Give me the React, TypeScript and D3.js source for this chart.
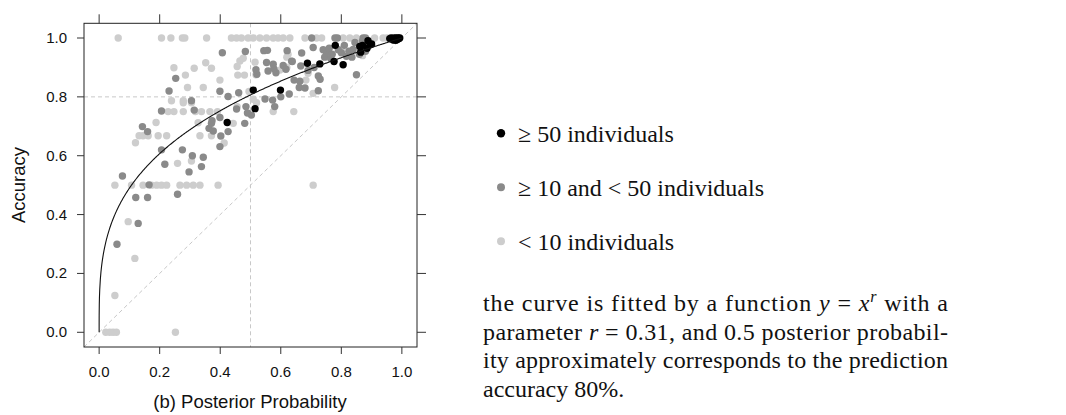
import React from "react";
import * as d3 from "d3";

const W = 1066;
const H = 415;

// posterior probability vs accuracy, three size groups
const bigGroup: [number, number][] = [
  [0.423, 0.713], [0.509, 0.823], [0.515, 0.76], [0.599, 0.823], [0.688, 0.914],
  [0.729, 0.912], [0.776, 0.92], [0.806, 0.909], [0.78, 0.975], [0.861, 0.971],
  [0.864, 0.952], [0.888, 0.991], [0.895, 0.977], [0.87, 0.975], [0.885, 0.965],
  [0.9, 0.98], [0.96, 0.998], [0.965, 1.0], [0.97, 0.995], [0.975, 1.0],
  [0.978, 0.997], [0.982, 1.0], [0.985, 0.995], [0.988, 1.0], [0.99, 0.998],
  [0.993, 1.0], [0.972, 0.993], [0.98, 0.992],
];

const midGroup: [number, number][] = [
  [0.702, 1.0], [0.779, 1.0], [0.787, 1.0], [0.872, 1.0], [0.88, 1.0],
  [0.407, 0.95], [0.483, 0.954], [0.544, 0.957], [0.556, 0.958], [0.621, 0.957],
  [0.669, 0.949], [0.707, 0.968], [0.751, 0.95], [0.839, 0.961], [0.817, 0.938],
  [0.253, 0.863], [0.231, 0.82], [0.206, 0.752], [0.143, 0.699], [0.16, 0.682],
  [0.305, 0.787], [0.314, 0.755], [0.399, 0.819], [0.426, 0.801], [0.461, 0.814],
  [0.454, 0.759], [0.485, 0.767], [0.399, 0.73], [0.373, 0.719], [0.426, 0.682],
  [0.402, 0.667], [0.399, 0.631], [0.363, 0.693], [0.275, 0.62], [0.308, 0.6],
  [0.344, 0.595], [0.338, 0.563], [0.297, 0.545], [0.217, 0.571], [0.206, 0.62],
  [0.165, 0.501], [0.121, 0.458], [0.16, 0.458], [0.259, 0.469], [0.077, 0.531],
  [0.129, 0.37], [0.059, 0.299], [0.481, 0.71], [0.521, 0.877], [0.553, 0.917],
  [0.575, 0.911], [0.558, 0.888], [0.584, 0.882], [0.548, 0.793], [0.573, 0.789],
  [0.58, 0.767], [0.644, 0.857], [0.661, 0.832], [0.638, 0.92], [0.666, 0.905],
  [0.724, 0.821], [0.724, 0.871], [0.85, 0.875], [0.577, 0.896], [0.608, 0.907],
  [0.617, 0.894], [0.636, 0.921], [0.663, 0.853], [0.68, 0.83], [0.628, 0.81],
  [0.518, 0.892], [0.74, 0.96], [0.76, 0.965], [0.77, 0.945], [0.79, 0.96],
  [0.8, 0.95], [0.81, 0.975], [0.825, 0.955], [0.745, 0.935], [0.765, 0.93],
  [0.835, 0.935], [0.86, 0.945], [0.88, 0.955], [0.845, 0.985], [0.87, 0.99],
  [0.371, 0.71], [0.377, 0.684], [0.503, 0.738], [0.73, 0.86], [0.69, 0.89],
  [0.71, 0.9], [0.6, 0.8], [0.49, 0.745],
];

const smallGroup: [number, number][] = [
  [0.063, 1.0], [0.206, 1.0], [0.237, 1.0], [0.275, 1.0], [0.283, 1.0],
  [0.355, 1.0], [0.437, 1.0], [0.454, 1.0], [0.47, 1.0], [0.492, 1.0],
  [0.509, 1.0], [0.531, 1.0], [0.553, 1.0], [0.575, 1.0], [0.591, 1.0],
  [0.608, 1.0], [0.63, 1.0], [0.68, 1.0], [0.718, 1.0], [0.735, 1.0],
  [0.806, 1.0], [0.828, 1.0], [0.85, 1.0], [0.938, 1.0], [0.95, 1.0], [0.96, 1.0],
  [0.247, 0.899], [0.285, 0.874], [0.314, 0.897], [0.352, 0.916], [0.371, 0.897],
  [0.399, 0.857], [0.465, 0.922], [0.456, 0.903], [0.476, 0.931], [0.458, 0.874],
  [0.48, 0.874], [0.292, 0.832], [0.344, 0.832], [0.239, 0.787], [0.278, 0.787],
  [0.228, 0.75], [0.247, 0.75], [0.278, 0.75], [0.318, 0.75], [0.338, 0.75],
  [0.366, 0.75], [0.391, 0.75], [0.515, 0.918], [0.518, 0.875], [0.509, 0.792],
  [0.575, 0.75], [0.643, 0.75], [0.597, 0.891], [0.624, 0.944], [0.62, 0.935],
  [0.683, 0.857], [0.707, 0.812], [0.778, 0.832], [0.188, 0.713], [0.132, 0.668],
  [0.145, 0.668], [0.162, 0.668], [0.195, 0.668], [0.223, 0.668], [0.12, 0.644],
  [0.333, 0.668], [0.371, 0.668], [0.413, 0.643], [0.327, 0.712], [0.443, 0.71],
  [0.456, 0.767], [0.259, 0.574], [0.305, 0.582], [0.278, 0.78], [0.305, 0.78],
  [0.052, 0.5], [0.107, 0.5], [0.145, 0.5], [0.173, 0.5], [0.19, 0.5],
  [0.206, 0.5], [0.223, 0.5], [0.267, 0.5], [0.289, 0.5], [0.311, 0.5],
  [0.333, 0.5], [0.393, 0.5], [0.707, 0.5], [0.096, 0.376], [0.118, 0.251],
  [0.052, 0.125], [0.022, 0.0], [0.035, 0.0], [0.046, 0.0], [0.057, 0.0],
  [0.252, 0.0], [0.495, 0.818], [0.52, 0.78], [0.69, 0.88], [0.76, 0.945],
  [0.8, 0.96], [0.87, 0.94], [0.9, 0.99], [0.91, 1.0], [0.62, 0.9],
];

const ticks = [0, 0.2, 0.4, 0.6, 0.8, 1.0];
const fitR = 0.31;
const groupColors = ["#000000", "#8a8a8a", "#cdcdcd"];
const legendLabels = ["≥ 50 individuals", "≥ 10 and < 50 individuals", "< 10 individuals"];

const sans = "'Liberation Sans', Arial, sans-serif";
const serif = "'Liberation Serif', 'Times New Roman', serif";

export default function App() {
  const x = d3.scaleLinear().domain([-0.05, 1.05]).range([84, 417]);
  const y = d3.scaleLinear().domain([-0.05, 1.05]).range([347, 23.3]);
  const [x0, x1] = x.range();
  const [y0, y1] = y.range();

  // fitted curve y = x^r
  const xs = [0, 1e-6, 1e-5, 1e-4, 5e-4, 0.001].concat(d3.range(0.002, 1.0001, 0.002));
  const curve = d3
    .line<number>()
    .x((d) => x(d))
    .y((d) => y(Math.pow(d, fitR)))(xs);

  const dash = "4,3";
  const gridColor = "#c8c8c8";

  const groups = [smallGroup, midGroup, bigGroup];
  const groupFill = [groupColors[2], groupColors[1], groupColors[0]];

  return (
    <svg width={W} height={H} style={{ position: "absolute", left: 0, top: 0, background: "#fff" }}>
      <defs>
        <clipPath id="frame">
          <rect x={x0} y={y1} width={x1 - x0} height={y0 - y1} />
        </clipPath>
      </defs>
      <g clipPath="url(#frame)">
        <line x1={x(0.5)} x2={x(0.5)} y1={y1} y2={y0} stroke={gridColor} strokeDasharray={dash} />
        <line x1={x0} x2={x1} y1={y(0.8)} y2={y(0.8)} stroke={gridColor} strokeDasharray={dash} />
        <line x1={x(-0.05)} y1={y(-0.05)} x2={x(1.05)} y2={y(1.05)} stroke={gridColor} strokeDasharray={dash} />
        {groups.map((g, gi) =>
          g.map((d, i) => (
            <circle key={gi + "-" + i} cx={x(d[0])} cy={y(d[1])} r={3.7} fill={groupFill[gi]} />
          ))
        )}
        <path d={curve || ""} fill="none" stroke="#111" strokeWidth={1.1} />
      </g>
      <rect x={x0} y={y1} width={x1 - x0} height={y0 - y1} fill="none" stroke="#222" strokeWidth={1} />
      {ticks.map((t) => (
        <g key={"t" + t} stroke="#333" strokeWidth={1}>
          <line x1={x(t)} x2={x(t)} y1={y0} y2={y0 + 7} />
          <line x1={x(t)} x2={x(t)} y1={y1} y2={y1 - 9} />
          <line x1={x0} x2={x0 - 7} y1={y(t)} y2={y(t)} />
          <line x1={x1} x2={x1 + 9} y1={y(t)} y2={y(t)} />
        </g>
      ))}
      {ticks.map((t) => (
        <text key={"xl" + t} x={x(t)} y={377} textAnchor="middle" fontFamily={sans} fontSize={15} fill="#111">
          {t.toFixed(1)}
        </text>
      ))}
      {ticks.map((t) => (
        <text key={"yl" + t} x={67} y={y(t) + 5} textAnchor="end" fontFamily={sans} fontSize={15} fill="#111">
          {t.toFixed(1)}
        </text>
      ))}
      <text x={250} y={408} textAnchor="middle" fontFamily={sans} fontSize={18.5} fill="#111">
        (b) Posterior Probability
      </text>
      <text transform={`translate(25,185) rotate(-90)`} textAnchor="middle" fontFamily={sans} fontSize={18.5} fill="#111">
        Accuracy
      </text>

      {legendLabels.map((lab, i) => (
        <g key={"lg" + i}>
          <circle cx={501} cy={133.3 + i * 54} r={i === 0 ? 4.2 : 4} fill={groupColors[i]} />
          <text x={518} y={141.7 + i * 54} fontFamily={serif} fontSize={24} fill="#111">
            {lab}
          </text>
        </g>
      ))}

      <g fontFamily={serif} fontSize={24} fill="#111">
        <text x={483} y={311} textLength={465} lengthAdjust="spacing">
          the curve is fitted by a function <tspan fontStyle="italic">y</tspan> ={" "}
          <tspan fontStyle="italic">x</tspan>
          <tspan fontStyle="italic" fontSize={16} dy={-9}>r</tspan>
          <tspan dy={9}> with a</tspan>
        </text>
        <text x={483} y={339.5} textLength={465} lengthAdjust="spacing">
          parameter <tspan fontStyle="italic">r</tspan> = 0.31, and 0.5 posterior probabil-
        </text>
        <text x={483} y={368} textLength={465} lengthAdjust="spacing">
          ity approximately corresponds to the prediction
        </text>
        <text x={483} y={396.5}>accuracy 80%.</text>
      </g>
    </svg>
  );
}
